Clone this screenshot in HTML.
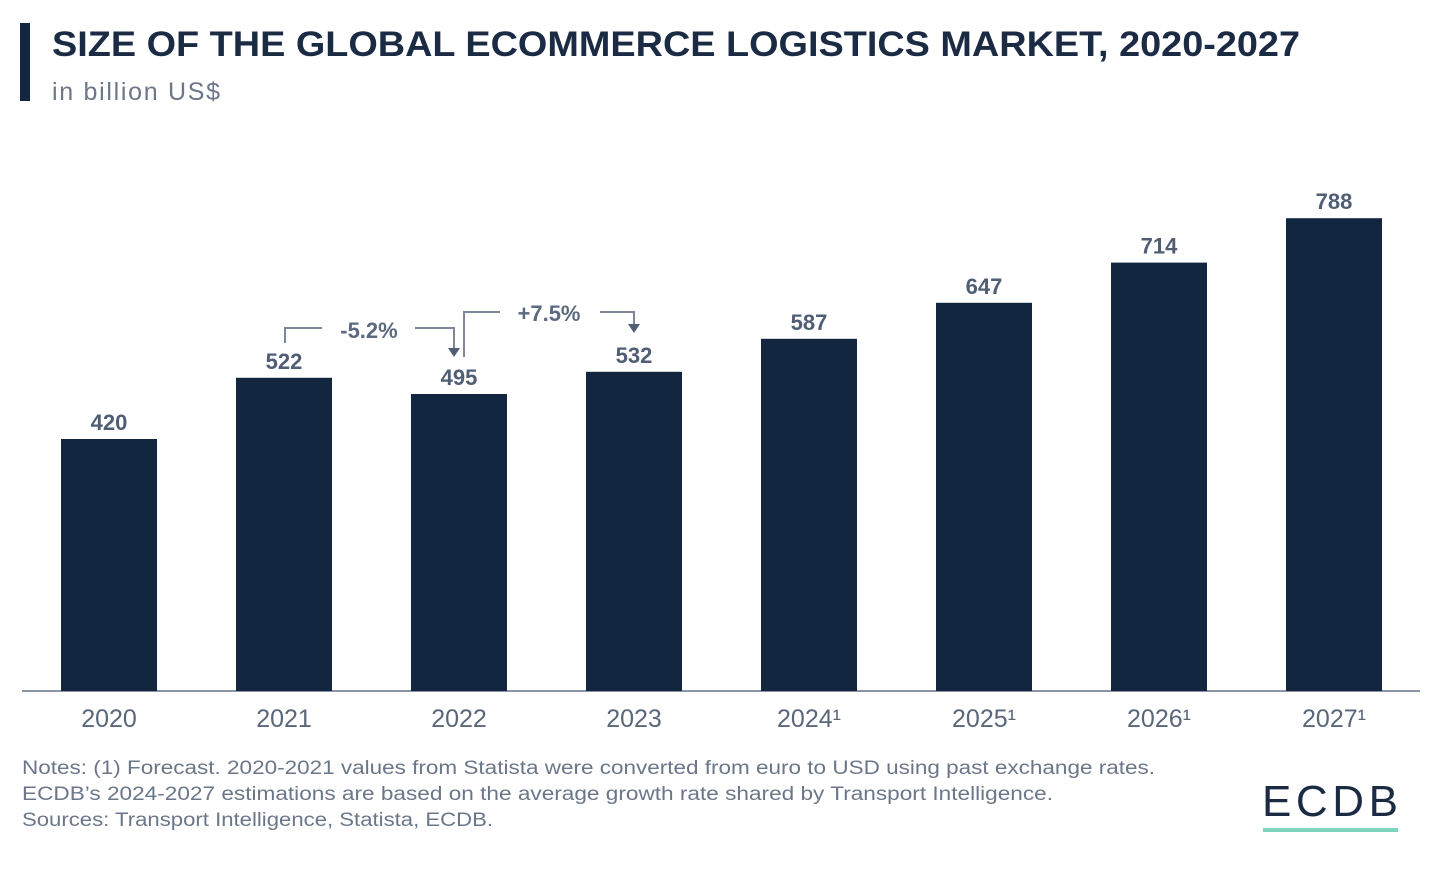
<!DOCTYPE html>
<html><head><meta charset="utf-8"><style>
body{margin:0;background:#fff;font-family:"Liberation Sans",sans-serif;}
#wrap{position:relative;width:1442px;height:880px;overflow:hidden;}
</style></head><body>
<div id="wrap">
<svg id="svg" width="1442" height="880">
<rect x="20" y="23" width="10" height="78" fill="#15253f"/>
<text x="52" y="56" font-size="35" font-weight="bold" fill="#1b2b44" textLength="1248" lengthAdjust="spacingAndGlyphs">SIZE OF THE GLOBAL ECOMMERCE LOGISTICS MARKET, 2020-2027</text>
<text x="52" y="100" font-size="25" fill="#6b7788" textLength="168">in billion US$</text>
<line x1="22" y1="691" x2="1420" y2="691" stroke="#8a94a6" stroke-width="2"/>
<g id="bars"></g>
<g id="annot" fill="none" stroke="#7d8799" stroke-width="2">
<polyline points="285,343 285,328 322,328"/>
<polyline points="415,328 454,328 454,350"/>
<polygon points="448,348 460,348 454,357" fill="#4f5e74" stroke="none"/>
<polyline points="464,357 464,312 500,312"/>
<polyline points="600,312 634,312 634,326"/>
<polygon points="628,324 640,324 634,333" fill="#4f5e74" stroke="none"/>
</g>
<text x="369" y="338" font-size="22" font-weight="bold" fill="#5c6a80" text-anchor="middle">-5.2%</text>
<text x="549" y="321" font-size="22" font-weight="bold" fill="#5c6a80" text-anchor="middle">+7.5%</text>
<text font-size="19" fill="#6b7788">
<tspan x="22" y="774" textLength="1133" lengthAdjust="spacingAndGlyphs">Notes: (1) Forecast. 2020-2021 values from Statista were converted from euro to USD using past exchange rates.</tspan>
<tspan x="22" y="800" textLength="1031" lengthAdjust="spacingAndGlyphs">ECDB’s 2024-2027 estimations are based on the average growth rate shared by Transport Intelligence.</tspan>
<tspan x="22" y="826" textLength="471" lengthAdjust="spacingAndGlyphs">Sources: Transport Intelligence, Statista, ECDB.</tspan>
</text>
<text x="1330" y="816" font-size="44" fill="#1b2b44" text-anchor="middle" textLength="136">ECDB</text>
<rect x="1263" y="828" width="135" height="4" fill="#7fd3bf"/>
</svg>
</div>
<script>
const categories=["2020","2021","2022","2023","2024","2025","2026","2027"];
const values=[420,522,495,532,587,647,714,788];
const forecast=[false,false,false,false,true,true,true,true];
const NS="http://www.w3.org/2000/svg";
const base=691, scale=0.6, x0=109, step=175, bw=96;
function xc(i){return x0+i*step;}
function yv(v){return base-v*scale;}
const g=document.getElementById('bars');
values.forEach((v,i)=>{
  const r=document.createElementNS(NS,'rect');
  r.setAttribute('x',xc(i)-bw/2);r.setAttribute('y',yv(v));
  r.setAttribute('width',bw);r.setAttribute('height',base-yv(v));
  r.setAttribute('fill','#132640');
  
  
  g.appendChild(r);
  const t=document.createElementNS(NS,'text');
  t.setAttribute('x',xc(i));t.setAttribute('y',yv(v)-9);
  t.setAttribute('text-anchor','middle');t.setAttribute('font-size','22');
  t.setAttribute('font-weight','bold');t.setAttribute('fill','#4f5e74');
  t.textContent=v;
  
  
  g.appendChild(t);
  const c=document.createElementNS(NS,'text');
  c.setAttribute('x',xc(i));c.setAttribute('y',727);
  c.setAttribute('text-anchor','middle');c.setAttribute('font-size','25');
  c.setAttribute('fill','#5a677a');
  c.textContent=categories[i]+(forecast[i]?'¹':'');
  
  
  g.appendChild(c);
});
</script>
</body></html>
